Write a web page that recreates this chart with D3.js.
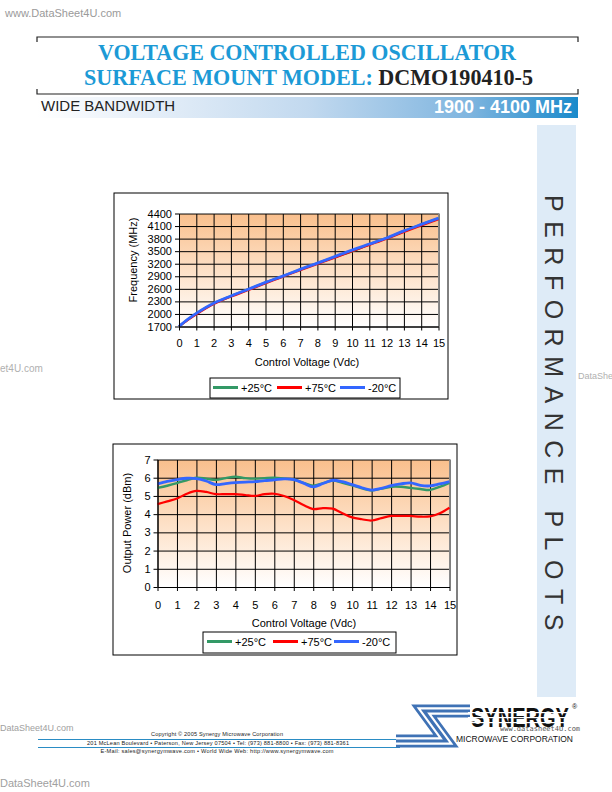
<!DOCTYPE html>
<html><head><meta charset="utf-8">
<script src="https://cdn.jsdelivr.net/npm/d3@7/dist/d3.min.js"></script>
<style>body{margin:0;background:#fff}svg{display:block}</style>
</head><body>
<svg id="page" width="612" height="792"></svg>
<script>
// ---------------- DATA ----------------
const voltTicks = [0,1,2,3,4,5,6,7,8,9,10,11,12,13,14,15];
const freqTicks = [1700,2000,2300,2600,2900,3200,3500,3800,4100,4400];
const powerTicks = [0,1,2,3,4,5,6,7];
const seriesLabels = ["+25°C","+75°C","-20°C"];
const seriesColors = ["#339966","#ff0000","#3366ff"];

const freqVolts = [0,0.5,1,2,3,4,5,6,7,8,9,10,11,12,13,14,15];
const freqP25   = [1700,1865,2010,2250,2428,2585,2750,2900,3060,3210,3360,3495,3665,3810,3978,4135,4282];
const freqP75   = [1700,1850,1990,2235,2415,2570,2735,2890,3045,3195,3345,3500,3650,3800,3960,4115,4262];
const freqM20   = [1700,1870,2015,2255,2430,2590,2755,2905,3065,3215,3370,3525,3670,3815,3985,4140,4290];

const powerVolts = [0,0.5,1,1.5,2,2.5,3,3.5,4,4.5,5,5.5,6,6.5,7,7.5,8,8.5,9,9.5,10,10.5,11,11.5,12,12.5,13,13.5,14,14.5,15];
const powerP25 = [5.44,5.56,5.70,5.86,6.00,5.95,5.88,5.98,6.05,5.98,5.95,5.98,6.00,5.95,5.90,5.72,5.56,5.70,5.85,5.72,5.58,5.42,5.30,5.40,5.50,5.50,5.44,5.38,5.33,5.50,5.72];
const powerP75 = [4.55,4.70,4.86,5.12,5.28,5.22,5.10,5.10,5.10,5.05,5.00,5.10,5.12,5.00,4.78,4.50,4.28,4.33,4.30,4.05,3.82,3.72,3.65,3.78,3.90,3.90,3.90,3.86,3.88,4.05,4.35];
const powerM20 = [5.66,5.80,5.90,5.97,5.95,5.82,5.62,5.68,5.73,5.76,5.78,5.84,5.88,5.94,5.90,5.70,5.50,5.68,5.86,5.78,5.62,5.45,5.32,5.42,5.56,5.66,5.72,5.58,5.55,5.66,5.78];

// ---------------- PAGE ----------------
const svg = d3.select("#page");
const defs = svg.append("defs");
const SANS = "'Liberation Sans', Arial, sans-serif";
const SERIF = "'Liberation Serif', 'Times New Roman', serif";

const pg = defs.append("linearGradient").attr("id","plotGrad").attr("x1",0).attr("y1",0).attr("x2",0).attr("y2",1);
pg.append("stop").attr("offset",0).attr("stop-color","#f9bf8c");
pg.append("stop").attr("offset",0.5).attr("stop-color","#fde0c6");
pg.append("stop").attr("offset",1).attr("stop-color","#ffffff");
const bg = defs.append("linearGradient").attr("id","bandGrad").attr("x1",0).attr("y1",0).attr("x2",1).attr("y2",0);
[[0,"#ffffff"],[0.12,"#f0f5fb"],[0.5,"#c2d9ef"],[0.8,"#7fb5df"],[1,"#1a8acb"]].forEach(s=>bg.append("stop").attr("offset",s[0]).attr("stop-color",s[1]));

// watermarks
svg.append("text").attr("x",5).attr("y",17).attr("font-family",SANS).attr("font-size",11).attr("fill","#9a9a9a").text("www.DataSheet4U.com");
svg.append("text").attr("x",0).attr("y",372).attr("font-family",SANS).attr("font-size",10).attr("fill","#b0b0b0").text("et4U.com");
svg.append("text").attr("x",0).attr("y",731).attr("font-family",SANS).attr("font-size",9).attr("fill","#a0a0a0").text("DataSheet4U.com");
svg.append("text").attr("x",0).attr("y",787).attr("font-family",SANS).attr("font-size",11).attr("fill","#a0a0a0").text("DataSheet4U.com");

// header frame
const frame = svg.append("g").attr("stroke","#222").attr("stroke-width",1.2).attr("fill","none");
frame.append("path").attr("d","M37,42V37H578V42");
frame.append("path").attr("d","M37,89V94H578V89");
const blue = "#1c9ad6";
svg.append("text").attr("x",98).attr("y",60).attr("font-family",SERIF).attr("font-weight","bold").attr("font-size",24)
  .attr("fill",blue).attr("textLength",418).attr("lengthAdjust","spacingAndGlyphs").text("VOLTAGE CONTROLLED OSCILLATOR");
const t2 = svg.append("text").attr("transform","translate(84,85) scale(1,1.09)").attr("font-family",SERIF).attr("font-weight","bold").attr("font-size",22)
  .attr("textLength",449).attr("lengthAdjust","spacingAndGlyphs");
t2.append("tspan").attr("fill",blue).text("SURFACE MOUNT MODEL: ");
t2.append("tspan").attr("fill","#222").text("DCMO190410-5");
svg.append("rect").attr("x",37).attr("y",97).attr("width",541).attr("height",21).attr("fill","url(#bandGrad)");
svg.append("text").attr("x",41).attr("y",111).attr("font-family",SANS).attr("font-size",15).attr("fill","#222").text("WIDE BANDWIDTH");
svg.append("text").attr("x",572).attr("y",113).attr("text-anchor","end").attr("font-family",SANS).attr("font-weight","bold").attr("font-size",18).attr("fill","#fff").text("1900 - 4100 MHz");

// sidebar
svg.append("rect").attr("x",537).attr("y",125).attr("width",39).attr("height",572).attr("fill","#deebf7");
svg.append("text").attr("transform","translate(545,195) rotate(90)").attr("font-family",SANS).attr("font-size",25)
  .attr("fill","#333").attr("letter-spacing",9.5).text("PERFORMANCE PLOTS");
svg.append("text").attr("x",578).attr("y",379).attr("font-family",SANS).attr("font-size",9).attr("fill","#b0b0b0").text("DataShe");

// ---------------- CHARTS ----------------
function drawChart(cfg){
  const g = svg.append("g");
  g.append("rect").attr("x",cfg.box[0]).attr("y",cfg.box[1]).attr("width",cfg.box[2]-cfg.box[0]).attr("height",cfg.box[3]-cfg.box[1])
    .attr("fill","#fff").attr("stroke","#000").attr("stroke-width",1);
  const [L,T,R,B] = cfg.plot;
  const x = d3.scaleLinear().domain([0,15]).range([L,R]);
  const y = d3.scaleLinear().domain(cfg.yDomain).range([B,T]);
  g.append("rect").attr("x",L).attr("y",T).attr("width",R-L).attr("height",B-T).attr("fill","url(#plotGrad)");
  g.append("g").attr("transform",`translate(0,${B})`)
    .call(d3.axisBottom(x).tickValues(voltTicks).tickSize(-(B-T)).tickFormat(""))
    .call(s=>{s.select(".domain").remove(); s.selectAll("line").attr("stroke","#000");});
  g.append("g").attr("transform",`translate(${L},0)`)
    .call(d3.axisLeft(y).tickValues(cfg.yTicks).tickSize(-(R-L)).tickFormat(""))
    .call(s=>{s.select(".domain").remove(); s.selectAll("line").attr("stroke","#000");});
  g.append("path").attr("d",`M${L},${T}H${R}V${B}`).attr("fill","none").attr("stroke","#888").attr("stroke-width",1);
  const line = d3.line().x((d,i)=>x(cfg.xs[i])).y(d=>y(d)).curve(d3.curveCatmullRom.alpha(0.5));
  const widths = [2.4,2.2,2.8];
  cfg.series.forEach((s,i)=>{
    g.append("path").datum(s).attr("d",line).attr("fill","none").attr("stroke",seriesColors[i]).attr("stroke-width",widths[i]).attr("stroke-linejoin","round");
  });
  const fmt = d3.format("d");
  g.append("g").attr("transform",`translate(0,${B})`)
    .call(d3.axisBottom(x).tickValues(voltTicks).tickSize(4).tickPadding(cfg.xPad).tickSizeOuter(0).tickFormat(fmt))
    .call(s=>{s.select(".domain").attr("stroke","#000"); s.selectAll("line").attr("stroke","#000");
      s.selectAll("text").attr("font-family",SANS).attr("font-size",11).attr("fill","#000");});
  g.append("g").attr("transform",`translate(${L},0)`)
    .call(d3.axisLeft(y).tickValues(cfg.yTicks).tickSize(4).tickPadding(3).tickSizeOuter(0).tickFormat(fmt))
    .call(s=>{s.select(".domain").attr("stroke","#000"); s.selectAll("line").attr("stroke","#000");
      s.selectAll("text").attr("font-family",SANS).attr("font-size",11).attr("fill","#000");});
  g.append("text").attr("x",cfg.xTitle[0]).attr("y",cfg.xTitle[1]).attr("text-anchor","middle").attr("font-family",SANS).attr("font-size",11).text("Control Voltage (Vdc)");
  g.append("text").attr("transform",`translate(${cfg.yTitle[0]},${cfg.yTitle[1]}) rotate(-90)`).attr("text-anchor","middle").attr("font-family",SANS).attr("font-size",11).text(cfg.yLabel);
  const lg = cfg.legend;
  g.append("rect").attr("x",lg.box[0]).attr("y",lg.box[1]).attr("width",lg.box[2]-lg.box[0]).attr("height",lg.box[3]-lg.box[1]).attr("fill","#fff").attr("stroke","#000");
  seriesLabels.forEach((lab,i)=>{
    g.append("line").attr("x1",lg.lines[i]).attr("x2",lg.lines[i]+25).attr("y1",lg.ly).attr("y2",lg.ly).attr("stroke",seriesColors[i]).attr("stroke-width",3);
    g.append("text").attr("x",lg.lines[i]+28).attr("y",lg.ly+4).attr("font-family",SANS).attr("font-size",11).text(lab);
  });
}

drawChart({box:[114,193,448,399], plot:[179,213.5,438.5,326.5], yDomain:[1700,4400], yTicks:freqTicks,
  xs:freqVolts, series:[freqP25,freqP75,freqM20], xPad:9, xTitle:[307,366], yTitle:[137,260], yLabel:"Frequency (MHz)",
  legend:{box:[210,378,400,398], lines:[213,277,340], ly:387.5}});
drawChart({box:[113,444,457,655], plot:[157.5,459.5,449.5,587], yDomain:[0,7], yTicks:powerTicks,
  xs:powerVolts, series:[powerP25,powerP75,powerM20], xPad:10, xTitle:[304,627], yTitle:[131,523], yLabel:"Output Power (dBm)",
  legend:{box:[203,632,396,653], lines:[207,273,334], ly:641.5}});

// ---------------- FOOTER ----------------
const fc = "#2a8cc4";
svg.append("line").attr("x1",38).attr("x2",400).attr("y1",739.5).attr("y2",739.5).attr("stroke",fc).attr("stroke-width",1);
svg.append("line").attr("x1",38).attr("x2",400).attr("y1",747.5).attr("y2",747.5).attr("stroke",fc).attr("stroke-width",1);
svg.append("text").attr("x",217).attr("y",736).attr("text-anchor","middle").attr("font-family",SANS).attr("font-size",5.6).attr("fill","#222").attr("textLength",132).text("Copyright © 2005 Synergy Microwave Corporation");
svg.append("text").attr("x",218).attr("y",744.5).attr("text-anchor","middle").attr("font-family",SANS).attr("font-size",5.6).attr("fill","#222").attr("textLength",262).text("201 McLean Boulevard • Paterson, New Jersey 07504 • Tel: (973) 881-8800 • Fax: (973) 881-8361");
svg.append("text").attr("x",217).attr("y",752.5).attr("text-anchor","middle").attr("font-family",SANS).attr("font-size",5.6).attr("fill","#222").attr("textLength",233).text("E-Mail: sales@synergymwave.com • World Wide Web: http://www.synergymwave.com");

// logo (striped S)
const logo = svg.append("g");
const lb = "#3f72b5";
const sPath = "M470,711 L424,711 L446,741 L396,741";
logo.append("path").attr("d",sPath).attr("fill","none").attr("stroke",lb).attr("stroke-width",13).attr("stroke-linejoin","miter");
logo.append("path").attr("d",sPath).attr("fill","none").attr("stroke","#fff").attr("stroke-width",7.5).attr("stroke-linejoin","miter");
logo.append("path").attr("d",sPath).attr("fill","none").attr("stroke",lb).attr("stroke-width",3.2).attr("stroke-linejoin","miter");
logo.append("text").attr("transform","translate(471,727) scale(1,1.36)").attr("font-family",SANS).attr("font-weight","900").attr("font-size",20).attr("fill","#111")
  .attr("textLength",98).attr("lengthAdjust","spacingAndGlyphs").text("SYNERGY");
[712,717,722].forEach(yy=>logo.append("rect").attr("x",468).attr("y",yy).attr("width",102).attr("height",1.2).attr("fill","#fff"));
logo.append("text").attr("x",572).attr("y",709).attr("font-family",SANS).attr("font-size",7).attr("fill","#111").text("®");
logo.append("text").attr("x",500).attr("y",731).attr("font-family","'DejaVu Sans Mono', monospace").attr("font-size",7).attr("fill","#555").text("www.datasheet4U.com");
logo.append("text").attr("x",456).attr("y",742).attr("font-family",SANS).attr("font-size",8.5).attr("fill","#111")
  .attr("textLength",117).attr("lengthAdjust","spacingAndGlyphs").text("MICROWAVE CORPORATION");
</script>
</body></html>
